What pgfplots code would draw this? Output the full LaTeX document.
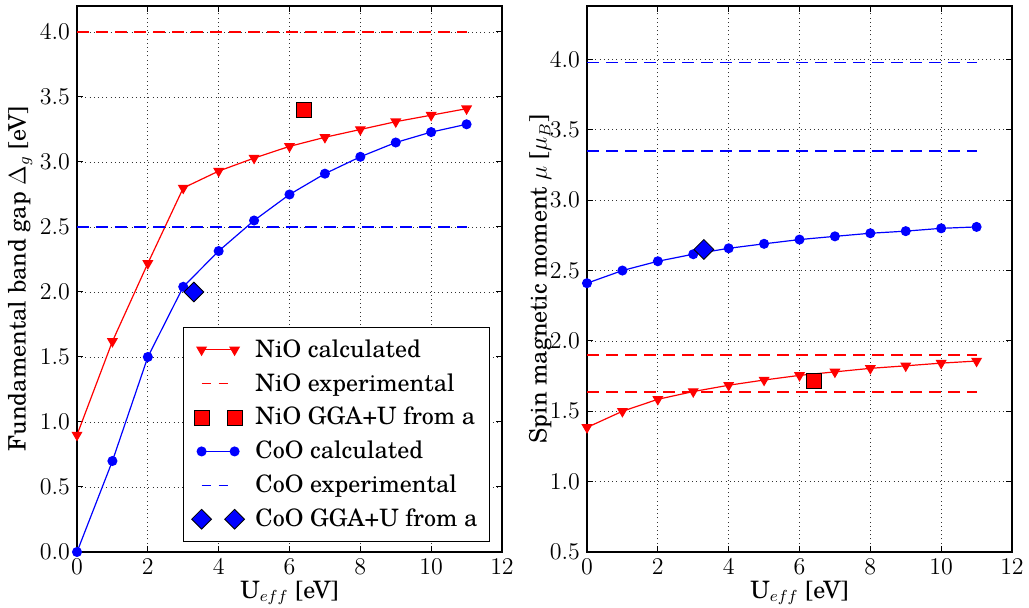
\documentclass[border=0pt]{standalone}
\usepackage{fontspec}
\setmainfont{TeX Gyre Schola}
\usepackage{pgfplots}
\pgfplotsset{compat=1.18}
\begin{document}
\begin{tikzpicture}
\pgfplotsset{
  myaxis/.style={
    scale only axis, width=212.5pt, height=273pt,
    xmin=0, xmax=12, xtick={0,2,...,12},
    font=\fontsize{12}{14}\selectfont,
    grid=major,
    major grid style={black!80, line width=0.4pt, dash pattern=on 0.5pt off 1.6pt},
    tick align=inside, major tick length=3pt,
    tick style={black, line width=0.5pt},
    axis line style={line width=0.8pt},
    yticklabel style={/pgf/number format/fixed,/pgf/number format/precision=1,/pgf/number format/fixed zerofill},
    xlabel={U$_{eff}$ [eV]},
    xlabel style={at={(axis description cs:0.5,-0.075)}, anchor=center},
  },
  calc/.style={line width=0.6pt, mark options={draw=black, line width=0.4pt, solid}},
  exper/.style={line width=0.7pt, dash pattern=on 6pt off 3.5pt},
  lm/.style={legend image code/.code={\draw[##1] plot coordinates {(0cm,0cm) (0.58cm,0cm)};}},
  om/.style={legend image code/.code={\draw[##1] plot[only marks] coordinates {(0cm,0cm) (0.58cm,0cm)};}},
}
\begin{axis}[myaxis, at={(0pt,0pt)}, anchor=south west,
  ymin=0, ymax=4.2, ytick={0,0.5,...,4.0},
  ylabel={Fundamental band gap $\Delta_g$ [eV]},
  ylabel style={at={(axis description cs:-0.134,0.5)}, anchor=center, rotate=0},
  legend style={at={(0.972,0.018)}, anchor=south east, draw=black, line width=0.6pt,
    font=\fontsize{12}{14}\selectfont, row sep=2.6pt, inner sep=4pt,
    nodes={inner sep=2pt, line width=0.4pt}},
  legend cell align=left,
]
\addplot[calc, red, mark=triangle*, mark size=2.6pt, mark options={fill=red, rotate=180}, lm] coordinates {
(0,0.90) (1,1.62) (2,2.22) (3,2.80) (4,2.93) (5,3.03) (6,3.12) (7,3.19) (8,3.25) (9,3.31) (10,3.36) (11,3.41)};
\addlegendentry{\hspace{3.5pt}NiO calculated}
\addplot[exper, red, forget plot] coordinates {(0,4.0) (11,4.0)};
\addlegendimage{legend image code/.code={\draw[color=red, line width=0.8pt, dash pattern=on 4.5pt off 4pt] (0cm,0cm) -- (0.46cm,0cm); \path[draw=none] (0.58cm,0cm) circle (0.1pt);}}
\addlegendentry{\hspace{3.5pt}NiO experimental}
\addplot[only marks, mark=square*, mark size=3.7pt, mark options={fill=red, draw=black, line width=0.4pt}, om] coordinates {(6.4,3.4)};
\addlegendentry{\hspace{3.5pt}NiO GGA+U from a}
\addplot[calc, blue, mark=*, mark size=2.2pt, mark options={fill=blue}, lm] coordinates {
(0,0.0) (1,0.70) (2,1.50) (3,2.04) (4,2.315) (5,2.55) (6,2.75) (7,2.91) (8,3.04) (9,3.15) (10,3.23) (11,3.29)};
\addlegendentry{\hspace{3.5pt}CoO calculated}
\addplot[exper, blue, forget plot] coordinates {(0,2.5) (11,2.5)};
\addlegendimage{legend image code/.code={\draw[color=blue, line width=0.8pt, dash pattern=on 4.5pt off 4pt] (0cm,0cm) -- (0.46cm,0cm); \path[draw=none] (0.58cm,0cm) circle (0.1pt);}}
\addlegendentry{\hspace{3.5pt}CoO experimental}
\addplot[only marks, mark=square*, mark size=3.5pt, mark options={fill=blue, draw=black, line width=0.4pt, rotate=45}, om] coordinates {(3.3,2.0)};
\addlegendentry{\hspace{3.5pt}CoO GGA+U from a}
\end{axis}
\begin{axis}[myaxis, at={(255pt,0pt)}, anchor=south west,
  ymin=0.5, ymax=4.38, ytick={0.5,1.0,...,4.0},
  ylabel={Spin magnetic moment $\mu$ [$\mu_B$]},
  ylabel style={at={(axis description cs:-0.110,0.5)}, anchor=center, rotate=0},
]
\addplot[exper, blue] coordinates {(0,3.98) (11,3.98)};
\addplot[exper, blue] coordinates {(0,3.35) (11,3.35)};
\addplot[exper, red] coordinates {(0,1.90) (11,1.90)};
\addplot[exper, red] coordinates {(0,1.637) (11,1.637)};
\addplot[calc, red, mark=triangle*, mark size=2.6pt, mark options={fill=red, rotate=180}] coordinates {
(0,1.385) (1,1.50) (2,1.585) (3,1.64) (4,1.685) (5,1.722) (6,1.755) (7,1.78) (8,1.805) (9,1.823) (10,1.842) (11,1.857)};
\addplot[calc, blue, mark=*, mark size=2.2pt, mark options={fill=blue}] coordinates {
(0,2.41) (1,2.50) (2,2.566) (3,2.616) (4,2.658) (5,2.69) (6,2.72) (7,2.743) (8,2.765) (9,2.78) (10,2.80) (11,2.81)};
\addplot[only marks, mark=square*, mark size=3.7pt, mark options={fill=red, draw=black, line width=0.4pt}] coordinates {(6.4,1.717)};
\addplot[only marks, mark=square*, mark size=3.5pt, mark options={fill=blue, draw=black, line width=0.4pt, rotate=45}] coordinates {(3.3,2.65)};
\end{axis}
\pgfresetboundingbox
\path[use as bounding box] (-38.5pt,-28pt) rectangle (476pt,276pt);
\end{tikzpicture}
\end{document}
